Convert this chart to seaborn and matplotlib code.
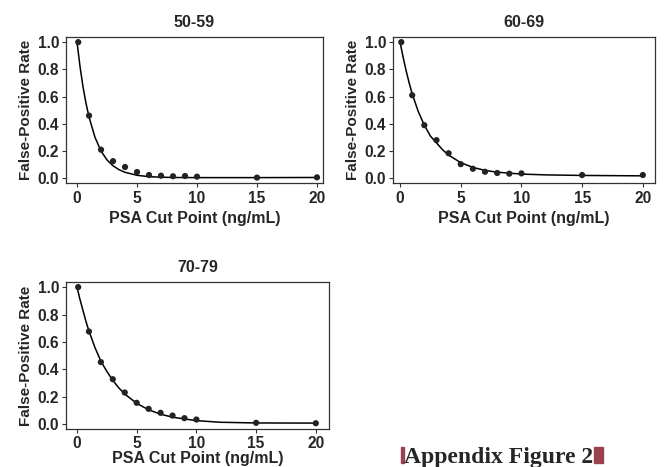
import numpy as np
import pandas as pd
import seaborn as sns
import matplotlib.pyplot as plt
from matplotlib.patches import Rectangle

# observed false-positive rates by PSA cut point
cut_points = [0.1, 1, 2, 3, 4, 5, 6, 7, 8, 9, 10, 15, 20]
fpr_50_59 = [1.0, 0.46, 0.21, 0.126, 0.083, 0.046, 0.024, 0.019, 0.015, 0.017, 0.012, 0.005, 0.007]
fpr_60_69 = [1.0, 0.61, 0.39, 0.28, 0.184, 0.104, 0.07, 0.048, 0.039, 0.034, 0.036, 0.024, 0.024]
fpr_70_79 = [1.0, 0.676, 0.453, 0.328, 0.231, 0.156, 0.112, 0.083, 0.063, 0.044, 0.034, 0.010, 0.007]

# fitted curves
curve_x = [0, 0.25, 0.5, 0.75, 1, 1.5, 2, 2.5, 3, 3.5, 4, 5, 6, 7, 8, 10, 12, 15, 20]
curve_50_59 = [1.0, 0.82, 0.67, 0.55, 0.45, 0.30, 0.20, 0.135, 0.092, 0.063, 0.044, 0.022, 0.012, 0.008, 0.006, 0.005, 0.005, 0.005, 0.006]
curve_60_69 = [1.0, 0.89, 0.79, 0.70, 0.62, 0.49, 0.39, 0.31, 0.26, 0.21, 0.17, 0.115, 0.08, 0.058, 0.045, 0.031, 0.025, 0.021, 0.018]
curve_70_79 = [1.0, 0.91, 0.83, 0.75, 0.68, 0.56, 0.46, 0.385, 0.32, 0.265, 0.22, 0.152, 0.105, 0.073, 0.051, 0.026, 0.014, 0.009, 0.008]

panels = [
    ("50-59", fpr_50_59, curve_50_59, [0.0994, 0.608, 0.387, 0.3126], (-0.92, 20.5), 3),
    ("60-69", fpr_60_69, curve_60_69, [0.5919, 0.608, 0.3945, 0.3126], (-0.58, 21.0), 3),
    ("70-79", fpr_70_79, curve_70_79, [0.0994, 0.0814, 0.396, 0.3147], (-0.92, 21.1), 0),
]

sns.set_style("ticks")
plt.rcParams['font.family'] = ['Liberation Sans', 'DejaVu Sans']

fig = plt.figure(figsize=(6.64, 4.67), dpi=100)

for title, pts, curve, rect, xlim, xpad in panels:
    ax = fig.add_axes(rect)
    sns.lineplot(x=curve_x, y=curve, ax=ax, color="black", linewidth=1.1)
    sns.scatterplot(x=cut_points, y=pts, ax=ax, color="#222222", s=20, edgecolor="none", zorder=3)
    ax.set_xlim(*xlim)
    ax.set_ylim(-0.035, 1.037)
    ax.set_xticks([0, 5, 10, 15, 20])
    ax.set_yticks([0.0, 0.2, 0.4, 0.6, 0.8, 1.0])
    ax.set_yticklabels(["0.0", "0.2", "0.4", "0.6", "0.8", "1.0"])
    ax.tick_params(labelsize=11.2, length=3, width=0.8, color="#333333", pad=2)
    ax.tick_params(axis="x", pad=3 if xpad else 2)
    for lab in ax.get_xticklabels() + ax.get_yticklabels():
        lab.set_fontweight("bold")
    for sp in ax.spines.values():
        sp.set_visible(True)
        sp.set_linewidth(0.9)
        sp.set_color("#333333")
    ax.set_title(title, fontsize=11.5, fontweight="bold", pad=7)
    ax.set_xlabel("PSA Cut Point (ng/mL)", fontsize=11.5, fontweight="bold", labelpad=xpad)
    ax.set_ylabel("False-Positive Rate", fontsize=11, fontweight="bold", labelpad=3.5)

fig.text(0.608, 0.009, "Appendix Figure 2", fontsize=17, fontweight="bold",
         family=["Liberation Serif", "DejaVu Serif"], ha="left", va="baseline")
fig.patches.append(Rectangle((0.6035, 0.009), 0.0045, 0.034, transform=fig.transFigure,
                             color="#9b4150", figure=fig))
fig.patches.append(Rectangle((0.894, 0.009), 0.0135, 0.034, transform=fig.transFigure,
                             color="#9b4150", figure=fig))

fig.savefig("out.png", dpi=100)
